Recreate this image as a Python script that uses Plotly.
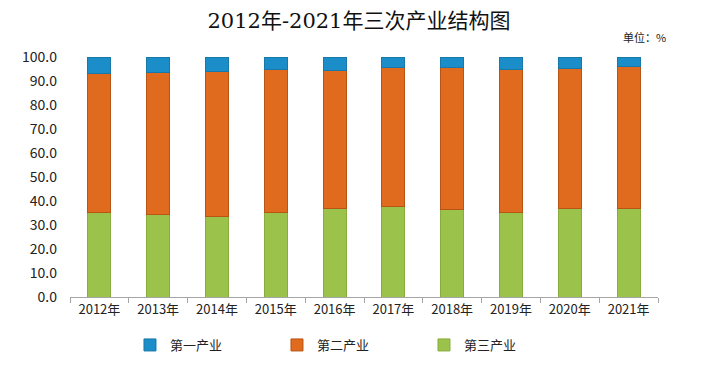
import plotly.graph_objects as go

years = ["2012年", "2013年", "2014年", "2015年", "2016年", "2017年", "2018年", "2019年", "2020年", "2021年"]
primary = [6.9, 6.4, 6.0, 5.3, 5.5, 4.4, 4.4, 5.0, 4.7, 3.9]
secondary = [57.9, 59.4, 60.5, 59.5, 57.5, 57.9, 59.3, 59.7, 58.6, 59.1]
tertiary = [35.2, 34.2, 33.5, 35.2, 37.0, 37.7, 36.3, 35.3, 36.7, 37.0]
yticks = [0, 10, 20, 30, 40, 50, 60, 70, 80, 90, 100]

cjk = "Noto Sans CJK SC, Noto Sans, sans-serif"

fig = go.Figure()
fig.add_trace(go.Bar(x=years, y=tertiary, name="第三产业",
                     marker=dict(color="#9bc34b", line=dict(color="#86ad3c", width=1))))
fig.add_trace(go.Bar(x=years, y=secondary, name="第二产业",
                     marker=dict(color="#e06a1e", line=dict(color="#b85416", width=1))))
fig.add_trace(go.Bar(x=years, y=primary, name="第一产业",
                     marker=dict(color="#1b8ec9", line=dict(color="#1878a8", width=1))))

fig.update_layout(
    width=702, height=372,
    barmode="stack", bargap=0.61,
    paper_bgcolor="white", plot_bgcolor="white",
    margin=dict(l=62, r=52, t=49, b=83, autoexpand=False),
    title=dict(text="2012年-2021年三次产业结构图", x=0.5, xanchor="center", y=0.966, yanchor="middle",
               font=dict(family="DejaVu Serif, Noto Sans CJK SC, serif", size=21, color="#111")),
    font=dict(family=cjk, color="#222"),
    showlegend=True,
    legend=dict(orientation="h", traceorder="reversed", x=0.102, xanchor="left", y=-0.2, yanchor="middle",
                entrywidth=102, entrywidthmode="pixels", itemwidth=30,
                font=dict(size=13, family=cjk)),
    xaxis=dict(showline=True, linecolor="#a6a6a6", linewidth=1, ticks="outside", tickson="boundaries",
               ticklen=5, tickcolor="#a6a6a6", tickfont=dict(size=13, family=cjk, color="#222"),
               showgrid=False),
    yaxis=dict(range=[0, 100], tickvals=yticks, tickformat=".1f", showline=False, showgrid=False,
               ticks="", ticklabelstandoff=12, tickfont=dict(size=14, family=cjk, color="#222"),
               zeroline=False),
)
fig.add_annotation(text="单位：%", x=1.017, y=1.083, xref="paper", yref="paper",
                   xanchor="right", yanchor="middle", showarrow=False,
                   font=dict(size=11, family="Noto Sans CJK SC, serif", color="#222"))
fig.write_html("out.html")
